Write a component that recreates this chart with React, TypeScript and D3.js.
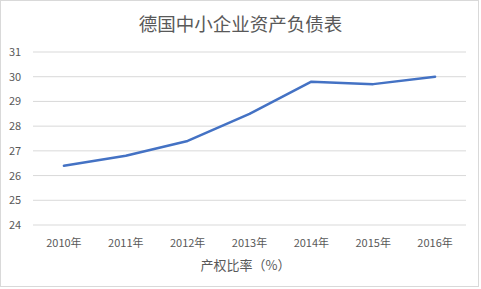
import React from "react";
import * as d3 from "d3";

const categories = ["2010年", "2011年", "2012年", "2013年", "2014年", "2015年", "2016年"];
const values = [26.4, 26.8, 27.4, 28.5, 29.8, 29.7, 30.0];
const yTicks = [24, 25, 26, 27, 28, 29, 30, 31];
const title = "德国中小企业资产负债表";
const xTitle = "产权比率（%）";

export default function App() {
  const W = 481, H = 289;
  const left = 33, right = 466, top = 52, bottom = 225;
  const x = d3.scaleBand<string>().domain(categories).range([left, right]);
  const y = d3.scaleLinear().domain([24, 31]).range([bottom, top]);
  const line = d3.line<number>()
    .x((_, i) => (x(categories[i]) as number) + x.bandwidth() / 2)
    .y((d) => y(d));
  const font = "'Microsoft YaHei', 'Noto Sans CJK SC', sans-serif";
  return (
    <svg width={W} height={H} style={{ position: "absolute", left: 0, top: 0, background: "#fff" }} fontFamily={font}>
      <rect x={0.5} y={0.5} width={W - 3} height={H - 3} fill="#fff" stroke="#d9d9d9" />
      <text x={W / 2} y={31} textAnchor="middle" fontSize={18.5} fill="#595959">{title}</text>
      {yTicks.map((t) => (
        <g key={t}>
          <line x1={left} x2={right} y1={y(t)} y2={y(t)} stroke="#d9d9d9" strokeWidth={1} />
          <text x={15} y={y(t) + 4} textAnchor="middle" fontSize={11} fill="#595959">{t}</text>
        </g>
      ))}
      {categories.map((c) => (
        <text key={c} x={(x(c) as number) + x.bandwidth() / 2} y={247} textAnchor="middle" fontSize={11} fill="#595959">{c}</text>
      ))}
      <text x={W / 2 + 5} y={270} textAnchor="middle" fontSize={13} fill="#595959">{xTitle}</text>
      <path d={line(values) || ""} fill="none" stroke="#4472C4" strokeWidth={2.5} strokeLinejoin="round" strokeLinecap="round" />
    </svg>
  );
}
